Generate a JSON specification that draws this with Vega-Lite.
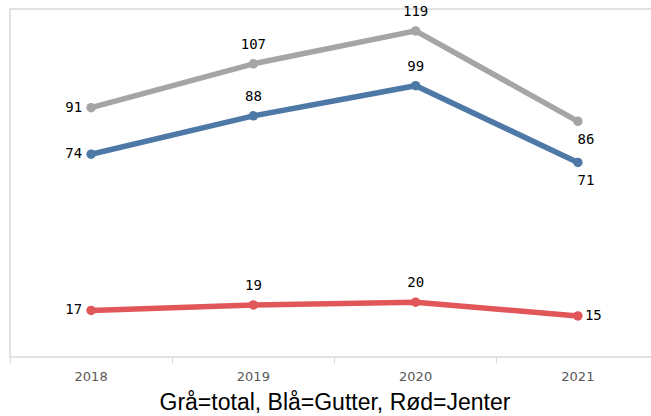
{
  "$schema": "https://vega.github.io/schema/vega-lite/v6.json",
  "width": 649,
  "height": 348,
  "autosize": {"type": "none"},
  "padding": {"left": 10, "top": 9, "right": 0, "bottom": 59},
  "background": "white",
  "config": {"view": {"stroke": "#d9d9d9", "strokeWidth": 1.5}},
  "data": {"values": [
    {"year": "2018", "group": "Total", "value": 91},
    {"year": "2019", "group": "Total", "value": 107},
    {"year": "2020", "group": "Total", "value": 119},
    {"year": "2021", "group": "Total", "value": 86},
    {"year": "2018", "group": "Gutter", "value": 74},
    {"year": "2019", "group": "Gutter", "value": 88},
    {"year": "2020", "group": "Gutter", "value": 99},
    {"year": "2021", "group": "Gutter", "value": 71},
    {"year": "2018", "group": "Jenter", "value": 17},
    {"year": "2019", "group": "Jenter", "value": 19},
    {"year": "2020", "group": "Jenter", "value": 20},
    {"year": "2021", "group": "Jenter", "value": 15}
  ]},
  "encoding": {
    "x": {
      "field": "year", "type": "ordinal",
      "scale": {"type": "band", "paddingInner": 0, "paddingOuter": 0},
      "axis": {
        "bandPosition": 0, "labelAngle": 0,
        "domain": false, "ticks": true, "tickColor": "#d9d9d9", "tickSize": 6,
        "labelColor": "#595959", "labelFont": "DejaVu Sans", "labelFontSize": 13, "labelPadding": 7,
        "grid": false,
        "title": "Grå=total, Blå=Gutter, Rød=Jenter",
        "titleFont": "Liberation Sans", "titleFontSize": 23, "titleFontWeight": "normal",
        "titleColor": "#000000", "titlePadding": 8
      }
    },
    "y": {
      "field": "value", "type": "quantitative",
      "scale": {"domain": [0, 127], "nice": false, "zero": true},
      "axis": null
    },
    "color": {
      "field": "group", "type": "nominal",
      "scale": {"domain": ["Total", "Gutter", "Jenter"], "range": ["#a5a5a5", "#4e79a7", "#e15759"]},
      "legend": null
    }
  },
  "layer": [
    {"mark": {"type": "line", "strokeWidth": 5.5, "strokeCap": "round"}},
    {"mark": {"type": "point", "filled": true, "size": 90, "opacity": 1}},
    {
      "transform": [{"filter": "datum.year == '2018'"}],
      "mark": {"type": "text", "align": "right", "baseline": "middle", "dx": -9, "font": "DejaVu Sans Mono", "fontSize": 14},
      "encoding": {"text": {"field": "value"}, "color": {"value": "#000000"}}
    },
    {
      "transform": [{"filter": "datum.year == '2019' || datum.year == '2020'"}],
      "mark": {"type": "text", "align": "center", "baseline": "middle", "dy": -19, "font": "DejaVu Sans Mono", "fontSize": 14},
      "encoding": {"text": {"field": "value"}, "color": {"value": "#000000"}}
    },
    {
      "transform": [{"filter": "datum.year == '2021' && datum.group != 'Jenter'"}],
      "mark": {"type": "text", "align": "center", "baseline": "middle", "dx": 8, "dy": 19, "font": "DejaVu Sans Mono", "fontSize": 14},
      "encoding": {"text": {"field": "value"}, "color": {"value": "#000000"}}
    },
    {
      "transform": [{"filter": "datum.year == '2021' && datum.group == 'Jenter'"}],
      "mark": {"type": "text", "align": "left", "baseline": "middle", "dx": 7, "font": "DejaVu Sans Mono", "fontSize": 14},
      "encoding": {"text": {"field": "value"}, "color": {"value": "#000000"}}
    }
  ]
}
